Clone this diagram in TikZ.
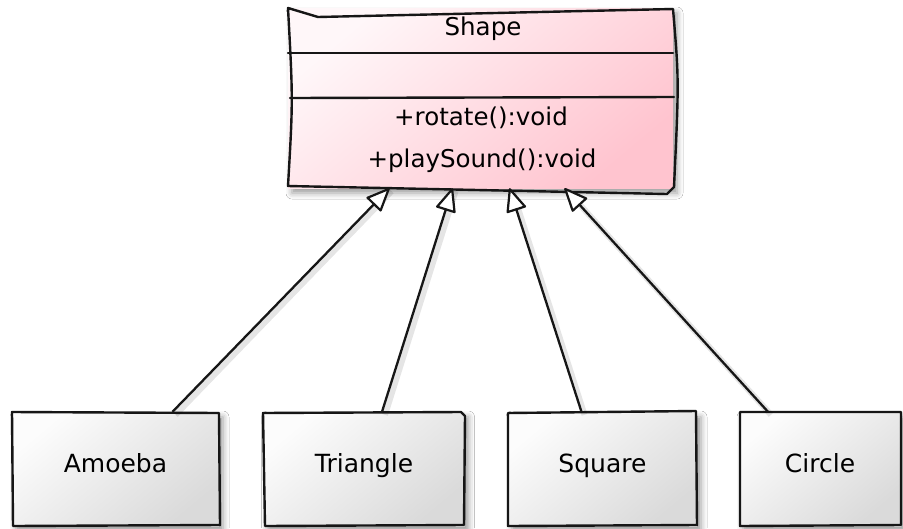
\documentclass[tikz,border=0pt]{standalone}
\usepackage{fontspec}
\setmainfont{DejaVu Sans}
\usetikzlibrary{arrows.meta,shadows.blur}

\definecolor{ink}{HTML}{161616}
\definecolor{pinklight}{HTML}{FFF7F9}
\definecolor{pinkdark}{HTML}{FFC4CF}
\definecolor{greylight}{HTML}{FCFCFC}
\definecolor{greydark}{HTML}{DADADA}

\tikzset{
  sketch/.style={draw=ink, line width=2.4pt, line join=round, line cap=round},
  softshadow/.style={blur shadow={shadow xshift=4pt, shadow yshift=-5pt,
      shadow blur radius=6pt, shadow opacity=40}},
  classbox/.style={rectangle, inner sep=0pt, softshadow,
      top color=pinklight, bottom color=pinkdark, shading angle=40},
  childbox/.style={rectangle, inner sep=0pt, softshadow,
      top color=greylight, bottom color=greydark, shading angle=40,
      minimum height=114pt, text height=18pt, text depth=12pt,
      font=\fontsize{25}{30}\selectfont},
  label/.style={anchor=base, inner sep=0pt, font=\fontsize{24.5}{30}\selectfont},
  gen/.style={draw=ink, line width=2.3pt,
      -{Triangle[length=25pt, width=21pt, fill=white, line width=2.2pt, line join=round]}},
  genshadow/.style={draw=black, line width=6pt, opacity=0.10,
      transform canvas={xshift=3pt, yshift=-3pt}}
}

\begin{document}
\begin{tikzpicture}[x=1pt, y=-1pt]
  \fill[white] (0,0) rectangle (903,528);
  \useasboundingbox (0,0) rectangle (903,528);

  % superclass
  \node[classbox, minimum width=385pt, minimum height=180pt] (shape) at (480.5,98) {};
  \draw[sketch] (288,186) .. controls (293,100) .. (288,8) -- (318,17) -- (673,9)
        .. controls (679,80) .. (674,187) -- (667,194) -- cycle;
  \draw[sketch] (288,53) -- (673,53);
  \draw[sketch] (290,98) -- (674,97);
  \node[label] (shapename) at (483,35) {Shape};
  \node[label] (oprotate) at (481,125) {+rotate():void};
  \node[label] (opsound) at (482,167) {+playSound():void};

  % subclasses
  \node[childbox, minimum width=207pt] (amoeba) at (115.5,469) {Amoeba};
  \draw[sketch] (12,412) -- (219,413) -- (220,525) -- (13,526) -- cycle;
  \node[childbox, minimum width=201pt] (triangle) at (364,469) {Triangle};
  \draw[sketch] (263,413) -- (461,412) -- (465,416) -- (464,525) -- (265,526) -- cycle;
  \node[childbox, minimum width=189pt] (square) at (602.5,469) {Square};
  \draw[sketch] (508,413) -- (696,411) -- (697,525) -- (508,526) -- cycle;
  \node[childbox, minimum width=162pt] (circle) at (820,469) {Circle};
  \draw[sketch] (740,412) -- (901,412) -- (901,525) -- (740,526) -- cycle;

  % generalisation arrows
  \draw[genshadow] ([xshift=57pt]amoeba.north) -- ([xshift=-92pt]shape.south);
  \draw[genshadow] ([xshift=18pt]triangle.north) -- ([xshift=-28pt]shape.south);
  \draw[genshadow] ([xshift=-21pt]square.north) -- ([xshift=29pt]shape.south);
  \draw[genshadow] ([xshift=-52pt]circle.north) -- ([xshift=84pt]shape.south);

  \draw[gen] ([xshift=57pt]amoeba.north) -- ([xshift=-91pt]shape.south);
  \draw[gen] ([xshift=18pt]triangle.north) -- ([xshift=-28pt]shape.south);
  \draw[gen] ([xshift=-21pt]square.north) -- ([xshift=29pt]shape.south);
  \draw[gen] ([xshift=-52pt]circle.north) -- ([xshift=84pt]shape.south);
\end{tikzpicture}
\end{document}
